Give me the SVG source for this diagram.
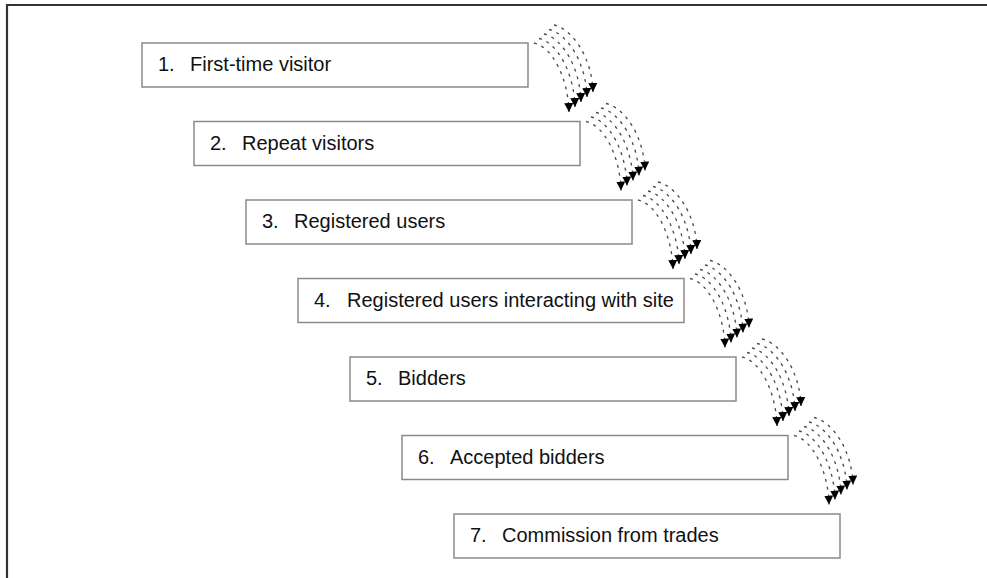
<svg xmlns="http://www.w3.org/2000/svg" xmlns:xlink="http://www.w3.org/1999/xlink" width="987" height="578" viewBox="0 0 987 578">
<style>
.box{fill:#fff;stroke:#8a8a8a;stroke-width:1.5}
.t{font-family:"Liberation Sans",Arial,sans-serif;font-size:20px;fill:#111}
.c{fill:none;stroke:#4a4a4a;stroke-width:1.3;stroke-dasharray:3 5}
.frame{stroke:#333;stroke-width:2.2;fill:none}
</style>
<defs>
<marker id="ah" markerUnits="userSpaceOnUse" markerWidth="9" markerHeight="9" refX="9" refY="4.5" orient="auto">
<path d="M0,0 L9,4.5 L0,9 z" fill="#000"/>
</marker>
<g id="bundle">
<path class="c" marker-end="url(#ah)" d="M534,43 C552,47 568,77 569,112"/>
<path class="c" marker-end="url(#ah)" d="M539,38.5 C557,42.5 574,72 575,107"/>
<path class="c" marker-end="url(#ah)" d="M544,34 C562,38 580,67 581,102"/>
<path class="c" marker-end="url(#ah)" d="M549,29.5 C567,33.5 586,62 587,97"/>
<path class="c" marker-end="url(#ah)" d="M554,25 C572,29 592,57 593,92"/>
</g>
</defs>
<rect width="987" height="578" fill="#fff"/>
<path class="frame" d="M7,578 L7,5 L987,5"/>
<g id="node1"><rect class="box" x="142" y="43" width="386" height="44"/><text class="t" x="158" y="71">1.</text><text class="t" x="190" y="71">First-time visitor</text></g>
<g id="node2"><rect class="box" x="194" y="121.5" width="386" height="44"/><text class="t" x="210" y="149.5">2.</text><text class="t" x="242" y="149.5">Repeat visitors</text></g>
<g id="node3"><rect class="box" x="246" y="200" width="386" height="44"/><text class="t" x="262" y="228">3.</text><text class="t" x="294" y="228">Registered users</text></g>
<g id="node4"><rect class="box" x="298" y="278.5" width="386" height="44"/><text class="t" x="314" y="306.5">4.</text><text class="t" x="347" y="306.5">Registered users interacting with site</text></g>
<g id="node5"><rect class="box" x="350" y="357" width="386" height="44"/><text class="t" x="366" y="385">5.</text><text class="t" x="398" y="385">Bidders</text></g>
<g id="node6"><rect class="box" x="402" y="435.5" width="386" height="44"/><text class="t" x="418" y="463.5">6.</text><text class="t" x="450" y="463.5">Accepted bidders</text></g>
<g id="node7"><rect class="box" x="454" y="514" width="386" height="44"/><text class="t" x="470" y="542">7.</text><text class="t" x="502" y="542">Commission from trades</text></g>
<g id="connectors">
<use xlink:href="#bundle" href="#bundle"/>
<use xlink:href="#bundle" href="#bundle" transform="translate(52,78.5)"/>
<use xlink:href="#bundle" href="#bundle" transform="translate(104,157)"/>
<use xlink:href="#bundle" href="#bundle" transform="translate(156,235.5)"/>
<use xlink:href="#bundle" href="#bundle" transform="translate(208,314)"/>
<use xlink:href="#bundle" href="#bundle" transform="translate(260,392.5)"/>
</g>
</svg>
